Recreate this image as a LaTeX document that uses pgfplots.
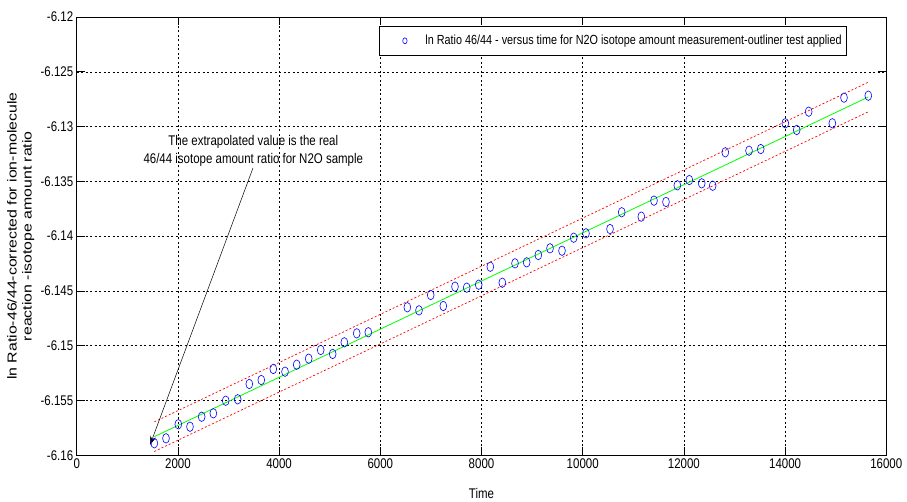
\documentclass[border=0pt]{standalone}
\usepackage{fontspec}
\setmainfont{Liberation Sans}
\newfontfamily\narrow[FakeStretch=0.82]{Liberation Sans}
\newfontfamily\wide[FakeStretch=1.22]{Liberation Sans}
\usepackage{pgfplots}
\pgfplotsset{compat=1.18}
\usetikzlibrary{arrows.meta}

\pgfplotstableread{
x y
1534 -6.1589
1765 -6.15845
2008 -6.15717
2239 -6.15739
2470 -6.15648
2700 -6.15617
2945 -6.15502
3182 -6.15489
3411 -6.15349
3648 -6.15313
3885 -6.15212
4117 -6.15237
4348 -6.15173
4585 -6.15118
4822 -6.15039
5059 -6.15075
5289 -6.14969
5534 -6.14887
5763 -6.14877
6534 -6.14649
6765 -6.14677
6996 -6.14537
7245 -6.14637
7476 -6.14461
7708 -6.1447
7945 -6.14443
8174 -6.14279
8411 -6.14425
8662 -6.14248
8893 -6.14239
9123 -6.14172
9354 -6.14111
9591 -6.14133
9822 -6.14014
10065 -6.13974
10540 -6.13935
10771 -6.13782
11158 -6.13822
11409 -6.13676
11646 -6.13688
11870 -6.13536
12107 -6.13488
12352 -6.13518
12569 -6.1354
12818 -6.13235
13287 -6.1322
13518 -6.13205
14004 -6.1297
14229 -6.13031
14466 -6.12864
14933 -6.1297
15164 -6.12736
15644 -6.12718
}\ratiodata

\begin{document}
\begin{tikzpicture}
\begin{axis}[
  scale only axis,
  width=809.6pt, height=438.3pt,
  xmin=0, xmax=16000, ymin=-6.16, ymax=-6.12,
  scaled x ticks=false, scaled y ticks=false,
  xtick={0,2000,4000,6000,8000,10000,12000,14000,16000},
  xticklabels={0,2000,4000,6000,8000,10000,12000,14000,16000},
  ytick={-6.16,-6.155,-6.15,-6.145,-6.14,-6.135,-6.13,-6.125,-6.12},
  yticklabels={-6.16,-6.155,-6.15,-6.145,-6.14,-6.135,-6.13,-6.125,-6.12},
  tick align=inside,
  major tick length=8pt,
  tick style={black, line width=0.6pt},
  axis line style={black, line width=0.6pt},
  grid=major,
  major grid style={black, dash pattern=on 2pt off 2.5pt, line width=0.5pt},
  tick label style={font=\narrow\fontsize{14}{16}\selectfont},
  xlabel={Time},
  xlabel style={font=\narrow\fontsize{14}{16}\selectfont, at={(axis description cs:0.5,-0.0867)}, anchor=center},
  ylabel={ln Ratio-46/44-corrected for ion-molecule\\reaction -isotope amount ratio},
  ylabel style={font=\wide\fontsize{13}{15}\selectfont, align=center, at={(axis description cs:-0.0692,0.5)}, anchor=center},
  legend style={at={(rel axis cs:0.9515,0.9795)}, anchor=north east, draw=black, line width=0.6pt, fill=white,
    font=\narrow\fontsize{13.2}{15}\selectfont, inner xsep=3pt, inner ysep=7pt},
  legend cell align=left,
  legend image code/.code={\draw[blue, line width=0.6pt, solid] (0.8cm,0cm) ellipse [x radius=2.2pt, y radius=3pt]; \path[draw=none] (0cm,0cm) -- (1.45cm,0cm);},
]
\addplot[only marks, mark=o, blue, mark size=3.4pt, mark options={yscale=1.4, line width=0.6pt}] table[x=x,y=y] {\ratiodata};
\addlegendentry{ln Ratio 46/44 - versus time for N2O isotope amount measurement-outliner test applied}
\addplot[green, line width=0.8pt, forget plot] coordinates {(1534,-6.1583) (15644,-6.1273)};
\addplot[red, dash pattern=on 2pt off 2pt, line width=0.7pt, forget plot] coordinates {(1534,-6.15695) (15644,-6.12595)};
\addplot[red, dash pattern=on 2pt off 2pt, line width=0.7pt, forget plot] coordinates {(1534,-6.15965) (15644,-6.12865)};
\draw[black, line width=0.5pt, -{Stealth[length=9pt, width=6pt]}] (axis cs:3484,-6.13378) -- (axis cs:1449,-6.15906);
\node[align=center, font=\narrow\fontsize{14}{18}\selectfont, inner sep=0pt] at (axis cs:3490,-6.13223) {The extrapolated value is the real\\46/44 isotope amount ratio for N2O sample};
\end{axis}
\pgfresetboundingbox
\path ([xshift=-76.7pt,yshift=-45.7pt]current axis.south west) rectangle ([xshift=20.7pt,yshift=17pt]current axis.north east);
\end{tikzpicture}
\end{document}
